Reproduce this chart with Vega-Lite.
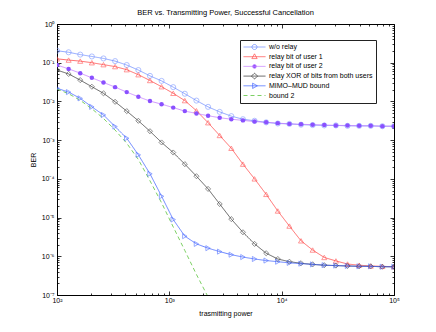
{
  "$schema": "https://vega.github.io/schema/vega-lite/v6.json",
  "width": 337,
  "height": 271,
  "autosize": {"type": "none"},
  "padding": {"left": 57, "top": 24, "right": 42, "bottom": 37},
  "background": "white",
  "config": {"view": {"stroke": "black", "strokeWidth": 1}, "font": "Liberation Sans"},
  "title": {"text": "BER vs. Transmitting Power, Successful Cancellation", "fontSize": 7.5, "fontWeight": "normal", "font": "Liberation Sans", "color": "black", "offset": 4, "anchor": "middle"},
  "datasets": {
    "d": [
      {"series": "w/o relay", "power": 100, "ber": 0.204},
      {"series": "w/o relay", "power": 126.9, "ber": 0.186},
      {"series": "w/o relay", "power": 161.0, "ber": 0.162},
      {"series": "w/o relay", "power": 204.3, "ber": 0.145},
      {"series": "w/o relay", "power": 259.3, "ber": 0.129},
      {"series": "w/o relay", "power": 329.0, "ber": 0.110},
      {"series": "w/o relay", "power": 417.6, "ber": 0.0871},
      {"series": "w/o relay", "power": 529.9, "ber": 0.0646},
      {"series": "w/o relay", "power": 672.4, "ber": 0.0457},
      {"series": "w/o relay", "power": 853.2, "ber": 0.0339},
      {"series": "w/o relay", "power": 1082.7, "ber": 0.0234},
      {"series": "w/o relay", "power": 1373.8, "ber": 0.0158},
      {"series": "w/o relay", "power": 1743.3, "ber": 0.0105},
      {"series": "w/o relay", "power": 2212.2, "ber": 0.00724},
      {"series": "w/o relay", "power": 2807.2, "ber": 0.00537},
      {"series": "w/o relay", "power": 3562.2, "ber": 0.00417},
      {"series": "w/o relay", "power": 4520.4, "ber": 0.00347},
      {"series": "w/o relay", "power": 5736.2, "ber": 0.00316},
      {"series": "w/o relay", "power": 7278.9, "ber": 0.00288},
      {"series": "w/o relay", "power": 9236.7, "ber": 0.00269},
      {"series": "w/o relay", "power": 11721, "ber": 0.00263},
      {"series": "w/o relay", "power": 14873, "ber": 0.00251},
      {"series": "w/o relay", "power": 18874, "ber": 0.00245},
      {"series": "w/o relay", "power": 23950, "ber": 0.00240},
      {"series": "w/o relay", "power": 30392, "ber": 0.00240},
      {"series": "w/o relay", "power": 38566, "ber": 0.00234},
      {"series": "w/o relay", "power": 48939, "ber": 0.00234},
      {"series": "w/o relay", "power": 62102, "ber": 0.00234},
      {"series": "w/o relay", "power": 78805, "ber": 0.00229},
      {"series": "w/o relay", "power": 100000, "ber": 0.00229},

      {"series": "relay bit of user 1", "power": 100, "ber": 0.126},
      {"series": "relay bit of user 1", "power": 126.9, "ber": 0.117},
      {"series": "relay bit of user 1", "power": 161.0, "ber": 0.110},
      {"series": "relay bit of user 1", "power": 204.3, "ber": 0.100},
      {"series": "relay bit of user 1", "power": 259.3, "ber": 0.0891},
      {"series": "relay bit of user 1", "power": 329.0, "ber": 0.0794},
      {"series": "relay bit of user 1", "power": 417.6, "ber": 0.0661},
      {"series": "relay bit of user 1", "power": 529.9, "ber": 0.0490},
      {"series": "relay bit of user 1", "power": 672.4, "ber": 0.0347},
      {"series": "relay bit of user 1", "power": 853.2, "ber": 0.0240},
      {"series": "relay bit of user 1", "power": 1082.7, "ber": 0.0162},
      {"series": "relay bit of user 1", "power": 1373.8, "ber": 0.0105},
      {"series": "relay bit of user 1", "power": 1743.3, "ber": 0.00575},
      {"series": "relay bit of user 1", "power": 2212.2, "ber": 0.00282},
      {"series": "relay bit of user 1", "power": 2807.2, "ber": 0.00132},
      {"series": "relay bit of user 1", "power": 3562.2, "ber": 0.000617},
      {"series": "relay bit of user 1", "power": 4520.4, "ber": 0.000240},
      {"series": "relay bit of user 1", "power": 5736.2, "ber": 0.000100},
      {"series": "relay bit of user 1", "power": 7278.9, "ber": 0.0000398},
      {"series": "relay bit of user 1", "power": 9236.7, "ber": 0.0000148},
      {"series": "relay bit of user 1", "power": 11721, "ber": 0.00000603},
      {"series": "relay bit of user 1", "power": 14873, "ber": 0.00000251},
      {"series": "relay bit of user 1", "power": 18874, "ber": 0.00000145},
      {"series": "relay bit of user 1", "power": 23950, "ber": 9.33e-7},
      {"series": "relay bit of user 1", "power": 30392, "ber": 7.59e-7},
      {"series": "relay bit of user 1", "power": 38566, "ber": 6.31e-7},
      {"series": "relay bit of user 1", "power": 48939, "ber": 5.89e-7},
      {"series": "relay bit of user 1", "power": 62102, "ber": 5.62e-7},
      {"series": "relay bit of user 1", "power": 78805, "ber": 5.50e-7},
      {"series": "relay bit of user 1", "power": 100000, "ber": 5.37e-7},

      {"series": "relay bit of user 2", "power": 100, "ber": 0.0871},
      {"series": "relay bit of user 2", "power": 126.9, "ber": 0.0692},
      {"series": "relay bit of user 2", "power": 161.0, "ber": 0.0537},
      {"series": "relay bit of user 2", "power": 204.3, "ber": 0.0407},
      {"series": "relay bit of user 2", "power": 259.3, "ber": 0.0309},
      {"series": "relay bit of user 2", "power": 329.0, "ber": 0.0234},
      {"series": "relay bit of user 2", "power": 417.6, "ber": 0.0174},
      {"series": "relay bit of user 2", "power": 529.9, "ber": 0.0132},
      {"series": "relay bit of user 2", "power": 672.4, "ber": 0.0102},
      {"series": "relay bit of user 2", "power": 853.2, "ber": 0.00851},
      {"series": "relay bit of user 2", "power": 1082.7, "ber": 0.00692},
      {"series": "relay bit of user 2", "power": 1373.8, "ber": 0.00562},
      {"series": "relay bit of user 2", "power": 1743.3, "ber": 0.00490},
      {"series": "relay bit of user 2", "power": 2212.2, "ber": 0.00427},
      {"series": "relay bit of user 2", "power": 2807.2, "ber": 0.00380},
      {"series": "relay bit of user 2", "power": 3562.2, "ber": 0.00347},
      {"series": "relay bit of user 2", "power": 4520.4, "ber": 0.00324},
      {"series": "relay bit of user 2", "power": 5736.2, "ber": 0.00302},
      {"series": "relay bit of user 2", "power": 7278.9, "ber": 0.00288},
      {"series": "relay bit of user 2", "power": 9236.7, "ber": 0.00275},
      {"series": "relay bit of user 2", "power": 11721, "ber": 0.00263},
      {"series": "relay bit of user 2", "power": 14873, "ber": 0.00257},
      {"series": "relay bit of user 2", "power": 18874, "ber": 0.00251},
      {"series": "relay bit of user 2", "power": 23950, "ber": 0.00245},
      {"series": "relay bit of user 2", "power": 30392, "ber": 0.00240},
      {"series": "relay bit of user 2", "power": 38566, "ber": 0.00240},
      {"series": "relay bit of user 2", "power": 48939, "ber": 0.00234},
      {"series": "relay bit of user 2", "power": 62102, "ber": 0.00234},
      {"series": "relay bit of user 2", "power": 78805, "ber": 0.00229},
      {"series": "relay bit of user 2", "power": 100000, "ber": 0.00229},

      {"series": "relay XOR of bits from both users", "power": 100, "ber": 0.0646},
      {"series": "relay XOR of bits from both users", "power": 126.9, "ber": 0.0513},
      {"series": "relay XOR of bits from both users", "power": 161.0, "ber": 0.0355},
      {"series": "relay XOR of bits from both users", "power": 204.3, "ber": 0.0240},
      {"series": "relay XOR of bits from both users", "power": 259.3, "ber": 0.0162},
      {"series": "relay XOR of bits from both users", "power": 329.0, "ber": 0.00977},
      {"series": "relay XOR of bits from both users", "power": 417.6, "ber": 0.00562},
      {"series": "relay XOR of bits from both users", "power": 529.9, "ber": 0.00316},
      {"series": "relay XOR of bits from both users", "power": 672.4, "ber": 0.00170},
      {"series": "relay XOR of bits from both users", "power": 853.2, "ber": 0.000871},
      {"series": "relay XOR of bits from both users", "power": 1082.7, "ber": 0.000479},
      {"series": "relay XOR of bits from both users", "power": 1373.8, "ber": 0.000240},
      {"series": "relay XOR of bits from both users", "power": 1743.3, "ber": 0.000117},
      {"series": "relay XOR of bits from both users", "power": 2212.2, "ber": 0.0000550},
      {"series": "relay XOR of bits from both users", "power": 2807.2, "ber": 0.0000224},
      {"series": "relay XOR of bits from both users", "power": 3562.2, "ber": 0.00000912},
      {"series": "relay XOR of bits from both users", "power": 4520.4, "ber": 0.00000417},
      {"series": "relay XOR of bits from both users", "power": 5736.2, "ber": 0.00000209},
      {"series": "relay XOR of bits from both users", "power": 7278.9, "ber": 0.00000120},
      {"series": "relay XOR of bits from both users", "power": 9236.7, "ber": 8.51e-7},
      {"series": "relay XOR of bits from both users", "power": 11721, "ber": 7.24e-7},
      {"series": "relay XOR of bits from both users", "power": 14873, "ber": 6.61e-7},
      {"series": "relay XOR of bits from both users", "power": 18874, "ber": 6.17e-7},
      {"series": "relay XOR of bits from both users", "power": 23950, "ber": 5.89e-7},
      {"series": "relay XOR of bits from both users", "power": 30392, "ber": 5.75e-7},
      {"series": "relay XOR of bits from both users", "power": 38566, "ber": 5.62e-7},
      {"series": "relay XOR of bits from both users", "power": 48939, "ber": 5.50e-7},
      {"series": "relay XOR of bits from both users", "power": 62102, "ber": 5.50e-7},
      {"series": "relay XOR of bits from both users", "power": 78805, "ber": 5.37e-7},
      {"series": "relay XOR of bits from both users", "power": 100000, "ber": 5.37e-7},

      {"series": "MIMO–MUD bound", "power": 100, "ber": 0.0219},
      {"series": "MIMO–MUD bound", "power": 126.9, "ber": 0.0174},
      {"series": "MIMO–MUD bound", "power": 161.0, "ber": 0.0120},
      {"series": "MIMO–MUD bound", "power": 204.3, "ber": 0.00724},
      {"series": "MIMO–MUD bound", "power": 259.3, "ber": 0.00447},
      {"series": "MIMO–MUD bound", "power": 329.0, "ber": 0.00224},
      {"series": "MIMO–MUD bound", "power": 417.6, "ber": 0.00112},
      {"series": "MIMO–MUD bound", "power": 529.9, "ber": 0.000417},
      {"series": "MIMO–MUD bound", "power": 672.4, "ber": 0.000135},
      {"series": "MIMO–MUD bound", "power": 853.2, "ber": 0.0000355},
      {"series": "MIMO–MUD bound", "power": 1082.7, "ber": 0.00000891},
      {"series": "MIMO–MUD bound", "power": 1373.8, "ber": 0.00000331},
      {"series": "MIMO–MUD bound", "power": 1743.3, "ber": 0.00000209},
      {"series": "MIMO–MUD bound", "power": 2212.2, "ber": 0.00000162},
      {"series": "MIMO–MUD bound", "power": 2807.2, "ber": 0.00000132},
      {"series": "MIMO–MUD bound", "power": 3562.2, "ber": 0.00000110},
      {"series": "MIMO–MUD bound", "power": 4520.4, "ber": 9.55e-7},
      {"series": "MIMO–MUD bound", "power": 5736.2, "ber": 8.51e-7},
      {"series": "MIMO–MUD bound", "power": 7278.9, "ber": 7.76e-7},
      {"series": "MIMO–MUD bound", "power": 9236.7, "ber": 7.24e-7},
      {"series": "MIMO–MUD bound", "power": 11721, "ber": 6.76e-7},
      {"series": "MIMO–MUD bound", "power": 14873, "ber": 6.46e-7},
      {"series": "MIMO–MUD bound", "power": 18874, "ber": 6.17e-7},
      {"series": "MIMO–MUD bound", "power": 23950, "ber": 5.89e-7},
      {"series": "MIMO–MUD bound", "power": 30392, "ber": 5.75e-7},
      {"series": "MIMO–MUD bound", "power": 38566, "ber": 5.62e-7},
      {"series": "MIMO–MUD bound", "power": 48939, "ber": 5.50e-7},
      {"series": "MIMO–MUD bound", "power": 62102, "ber": 5.50e-7},
      {"series": "MIMO–MUD bound", "power": 78805, "ber": 5.37e-7},
      {"series": "MIMO–MUD bound", "power": 100000, "ber": 5.37e-7},

      {"series": "bound 2", "power": 100, "ber": 0.0209},
      {"series": "bound 2", "power": 126.9, "ber": 0.0158},
      {"series": "bound 2", "power": 161.0, "ber": 0.0107},
      {"series": "bound 2", "power": 204.3, "ber": 0.00646},
      {"series": "bound 2", "power": 259.3, "ber": 0.00363},
      {"series": "bound 2", "power": 329.0, "ber": 0.00182},
      {"series": "bound 2", "power": 417.6, "ber": 0.000832},
      {"series": "bound 2", "power": 529.9, "ber": 0.000316},
      {"series": "bound 2", "power": 672.4, "ber": 0.0000891},
      {"series": "bound 2", "power": 853.2, "ber": 0.0000240},
      {"series": "bound 2", "power": 1082.7, "ber": 0.00000575},
      {"series": "bound 2", "power": 1373.8, "ber": 0.00000141},
      {"series": "bound 2", "power": 1743.3, "ber": 3.39e-7},
      {"series": "bound 2", "power": 2212.2, "ber": 8.91e-8},
      {"series": "bound 2", "power": 2807.2, "ber": 2.0e-8}
    ]
  },
  "data": {"name": "d"},
  "layer": [
    {
      "mark": {"type": "line", "clip": true, "strokeWidth": 0.8},
      "encoding": {
        "x": {
          "field": "power", "type": "quantitative",
          "scale": {"type": "log", "domain": [100, 100000], "nice": false},
          "axis": {
            "orient": "bottom",
            "values": [100,200,300,400,500,600,700,800,900,1000,2000,3000,4000,5000,6000,7000,8000,9000,10000,20000,30000,40000,50000,60000,70000,80000,90000,100000],
            "labelExpr": "abs(log(datum.value)/LN10 - round(log(datum.value)/LN10)) < 0.001 ? '10' + ['⁰','¹','²','³','⁴','⁵'][round(log(datum.value)/LN10)] : ''",
            "tickSize": {"condition": {"test": "abs(log(datum.value)/LN10 - round(log(datum.value)/LN10)) < 0.001", "value": -4}, "value": -2},
            "tickColor": "black", "tickWidth": 0.8,
            "domain": true, "domainColor": "black", "domainWidth": 1,
            "grid": false,
            "labelFont": "Liberation Sans", "labelFontSize": 7, "labelColor": "black",
            "labelPadding": 5.5, "labelFlush": false, "labelOverlap": false, "labelBound": false,
            "title": "trasmitting power", "titleFont": "Liberation Sans", "titleFontSize": 7, "titleFontWeight": "normal", "titleColor": "black",
            "titleX": 168.5, "titleY": 18, "titleBaseline": "middle", "titleAlign": "center"
          }
        },
        "y": {
          "field": "ber", "type": "quantitative",
          "scale": {"type": "log", "domain": [0.0000001, 1], "nice": false},
          "axis": {
            "orient": "left",
            "values": [1e-7,2e-7,3e-7,4e-7,5e-7,6e-7,7e-7,8e-7,9e-7,1e-6,2e-6,3e-6,4e-6,5e-6,6e-6,7e-6,8e-6,9e-6,1e-5,2e-5,3e-5,4e-5,5e-5,6e-5,7e-5,8e-5,9e-5,1e-4,2e-4,3e-4,4e-4,5e-4,6e-4,7e-4,8e-4,9e-4,0.001,0.002,0.003,0.004,0.005,0.006,0.007,0.008,0.009,0.01,0.02,0.03,0.04,0.05,0.06,0.07,0.08,0.09,0.1,0.2,0.3,0.4,0.5,0.6,0.7,0.8,0.9,1],
            "labelExpr": "abs(log(datum.value)/LN10 - round(log(datum.value)/LN10)) < 0.001 ? '10' + ['⁰','⁻¹','⁻²','⁻³','⁻⁴','⁻⁵','⁻⁶','⁻⁷'][-round(log(datum.value)/LN10)] : ''",
            "tickSize": {"condition": {"test": "abs(log(datum.value)/LN10 - round(log(datum.value)/LN10)) < 0.001", "value": -4}, "value": -2},
            "tickColor": "black", "tickWidth": 0.8,
            "domain": true, "domainColor": "black", "domainWidth": 1,
            "grid": false,
            "labelFont": "Liberation Sans", "labelFontSize": 7, "labelColor": "black",
            "labelPadding": 7, "labelFlush": false, "labelOverlap": false, "labelBound": false,
            "title": "BER", "titleFont": "Liberation Sans", "titleFontSize": 7, "titleFontWeight": "normal", "titleColor": "black",
            "titleX": -24, "titleY": 135.5, "titleAngle": 270, "titleBaseline": "middle", "titleAlign": "center"
          }
        },
        "stroke": {
          "field": "series", "type": "nominal",
          "scale": {
            "domain": ["w/o relay", "relay bit of user 1", "relay bit of user 2", "relay XOR of bits from both users", "MIMO–MUD bound", "bound 2"],
            "range": ["#7490ff", "#ff4848", "#c47cff", "#3a3a3a", "#4466ff", "#5cc43c"]
          },
          "legend": {
            "orient": "none", "legendX": 183, "legendY": 16,
            "title": null, "direction": "vertical",
            "symbolSize": 484, "clipHeight": 8, "rowPadding": 1.7,
            "padding": 3, "labelOffset": 3, "labelLimit": 300,
            "labelFont": "Liberation Sans", "labelFontSize": 7, "labelColor": "black",
            "strokeColor": "#222222", "fillColor": "white", "cornerRadius": 0,
            "symbolStrokeWidth": 0.8,
            "encode": {
              "symbols": {
                "update": {
                  "shape": {"signal": "datum.value === 'w/o relay' ? 'M-1,0L1,0M0.23,0A0.23,0.23,0,1,1,-0.23,0A0.23,0.23,0,1,1,0.23,0' : datum.value === 'relay bit of user 1' ? 'M-1,0L1,0M0,-0.26L0.24,0.17L-0.24,0.17Z' : datum.value === 'relay bit of user 2' ? 'M-1,0L1,0M0.17,0A0.17,0.17,0,1,1,-0.17,0A0.17,0.17,0,1,1,0.17,0' : datum.value === 'relay XOR of bits from both users' ? 'M-1,0L1,0M0,-0.27L0.27,0L0,0.27L-0.27,0Z' : datum.value === 'bound 2' ? 'M-1,0L1,0' : 'M-1,0L1,0M-0.17,-0.24L0.26,0L-0.17,0.24Z'"},
                  "fill": {"signal": "datum.value === 'relay bit of user 2' ? '#8a50ff' : 'transparent'"},
                  "stroke": {"scale": "stroke", "field": "value"},
                  "strokeDash": {"signal": "datum.value === 'bound 2' ? [3, 2.5] : [1, 0]"},
                  "strokeWidth": {"value": 0.8},
                  "size": {"value": 484},
                  "opacity": {"value": 1}
                }
              }
            }
          }
        },
        "strokeDash": {
          "field": "series", "type": "nominal",
          "scale": {
            "domain": ["w/o relay", "relay bit of user 1", "relay bit of user 2", "relay XOR of bits from both users", "MIMO–MUD bound", "bound 2"],
            "range": [[1, 0], [1, 0], [1, 0], [1, 0], [1, 0], [4, 3]]
          },
          "legend": null
        }
      }
    },
    {
      "transform": [{"filter": "datum.series !== 'bound 2' && datum.series !== 'relay bit of user 2'"}],
      "mark": {"type": "point", "clip": true, "filled": false, "size": 26, "strokeWidth": 0.8},
      "encoding": {
        "x": {
          "field": "power", "type": "quantitative",
          "scale": {"type": "log", "domain": [100, 100000], "nice": false},
          "axis": {
            "orient": "top",
            "values": [100,200,300,400,500,600,700,800,900,1000,2000,3000,4000,5000,6000,7000,8000,9000,10000,20000,30000,40000,50000,60000,70000,80000,90000,100000],
            "labels": false, "domain": false, "grid": false, "title": null,
            "tickSize": {"condition": {"test": "abs(log(datum.value)/LN10 - round(log(datum.value)/LN10)) < 0.001", "value": -4}, "value": -2},
            "tickColor": "black", "tickWidth": 0.8
          }
        },
        "y": {
          "field": "ber", "type": "quantitative",
          "scale": {"type": "log", "domain": [0.0000001, 1], "nice": false},
          "axis": {
            "orient": "right",
            "values": [1e-7,2e-7,3e-7,4e-7,5e-7,6e-7,7e-7,8e-7,9e-7,1e-6,2e-6,3e-6,4e-6,5e-6,6e-6,7e-6,8e-6,9e-6,1e-5,2e-5,3e-5,4e-5,5e-5,6e-5,7e-5,8e-5,9e-5,1e-4,2e-4,3e-4,4e-4,5e-4,6e-4,7e-4,8e-4,9e-4,0.001,0.002,0.003,0.004,0.005,0.006,0.007,0.008,0.009,0.01,0.02,0.03,0.04,0.05,0.06,0.07,0.08,0.09,0.1,0.2,0.3,0.4,0.5,0.6,0.7,0.8,0.9,1],
            "labels": false, "domain": false, "grid": false, "title": null,
            "tickSize": {"condition": {"test": "abs(log(datum.value)/LN10 - round(log(datum.value)/LN10)) < 0.001", "value": -4}, "value": -2},
            "tickColor": "black", "tickWidth": 0.8
          }
        },
        "stroke": {
          "field": "series", "type": "nominal",
          "scale": {
            "domain": ["w/o relay", "relay bit of user 1", "relay bit of user 2", "relay XOR of bits from both users", "MIMO–MUD bound", "bound 2"],
            "range": ["#7490ff", "#ff4848", "#c47cff", "#3a3a3a", "#4466ff", "#5cc43c"]
          },
          "legend": null
        },
        "shape": {
          "field": "series", "type": "nominal",
          "scale": {
            "domain": ["w/o relay", "relay bit of user 1", "relay XOR of bits from both users", "MIMO–MUD bound"],
            "range": ["circle", "triangle-up", "diamond", "triangle-right"]
          },
          "legend": null
        }
      }
    },
    {
      "transform": [{"filter": "datum.series === 'relay bit of user 2'"}],
      "mark": {"type": "point", "clip": true, "filled": true, "size": 20, "color": "#8a50ff", "opacity": 1},
      "encoding": {
        "x": {"field": "power", "type": "quantitative", "scale": {"type": "log", "domain": [100, 100000], "nice": false}, "axis": null},
        "y": {"field": "ber", "type": "quantitative", "scale": {"type": "log", "domain": [0.0000001, 1], "nice": false}, "axis": null}
      }
    }
  ],
  "resolve": {"axis": {"x": "independent", "y": "independent"}}
}
